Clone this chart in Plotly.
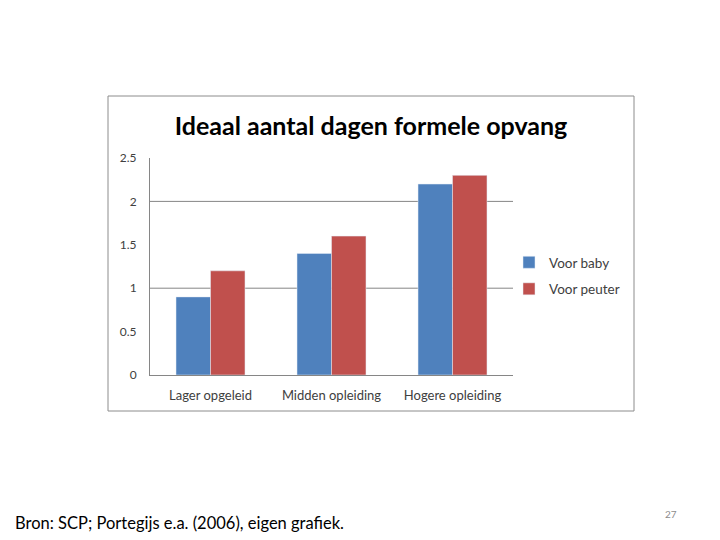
import plotly.graph_objects as go

categories = ["Lager opgeleid", "Midden opleiding", "Hogere opleiding"]
baby = [0.9, 1.4, 2.2]
peuter = [1.2, 1.6, 2.3]
series_names = ["Voor baby", "Voor peuter"]
y_ticks = [0, 0.5, 1, 1.5, 2, 2.5]
y_tick_labels = ["0", "0.5", "1", "1.5", "2", "2.5"]
grid_values = [1, 2]

W, H = 720, 540
OFF = 8  # page body margin
# target positions in screen pixels
SL, SR, ST, SB = 150, 513, 158, 375
L, R, T, B = SL - OFF, SR - OFF, ST - OFF, SB - OFF
pw, ph = R - L, B - T

def px(x):
    return (x - SL) / pw

def py(y):
    return (SB - y) / ph

fig = go.Figure()
fig.add_trace(go.Bar(x=categories, y=baby, name=series_names[0], marker_color="#4F81BD",
                     legendgroup="a"))
fig.add_trace(go.Bar(x=categories, y=peuter, name=series_names[1], marker_color="#C0504D",
                     legendgroup="b"))

shapes = []
for g in grid_values:
    shapes.append(dict(type="line", xref="paper", yref="y", x0=0, x1=1, y0=g, y1=g,
                       line=dict(color="#868686", width=1), layer="below"))
shapes.append(dict(type="rect", xref="paper", yref="paper",
                   x0=px(108), x1=px(634), y0=py(411), y1=py(96),
                   line=dict(color="#8c8c8c", width=1)))

font_main = "Lato, Open Sans, sans-serif"

fig.update_layout(
    width=W, height=H,
    margin=dict(l=L, r=W - R, t=T, b=H - B, pad=0),
    paper_bgcolor="white", plot_bgcolor="white",
    barmode="group", bargap=0.43, bargroupgap=0,
    title=dict(text="<b>Ideaal aantal dagen formele opvang</b>", x=(371 - OFF) / W, xanchor="center",
               y=1 - (126 - OFF) / H, yanchor="middle", xref="container", yref="container",
               font=dict(family=font_main, size=25, color="black")),
    xaxis=dict(showline=True, linecolor="#868686", linewidth=1, showgrid=False,
               ticks="", tickfont=dict(family=font_main, size=13, color="#404040"),
               ticklabelstandoff=8, fixedrange=True),
    yaxis=dict(range=[0, 2.5], tickvals=y_ticks, ticktext=y_tick_labels, showgrid=False,
               showline=True, linecolor="#868686", linewidth=1, zeroline=False,
               ticks="", tickfont=dict(family=font_main, size=12, color="#404040"),
               ticklabelstandoff=10, fixedrange=True),
    legend=dict(x=px(509), y=py(247), xanchor="left", yanchor="top",
                font=dict(family=font_main, size=13.5, color="#404040"),
                bgcolor="rgba(0,0,0,0)", tracegroupgap=6),
    shapes=shapes,
    annotations=[
        dict(text="Bron: SCP; Portegijs e.a. (2006), eigen grafiek.", xref="paper", yref="paper",
             x=px(13), y=py(523), xanchor="left", yanchor="middle", showarrow=False,
             font=dict(family=font_main, size=16.5, color="black")),
        dict(text="27", xref="paper", yref="paper", x=px(671), y=py(514), xanchor="center",
             yanchor="middle", showarrow=False, font=dict(family=font_main, size=10, color="#8c8c8c")),
    ],
)

fig.write_html("out.html")
